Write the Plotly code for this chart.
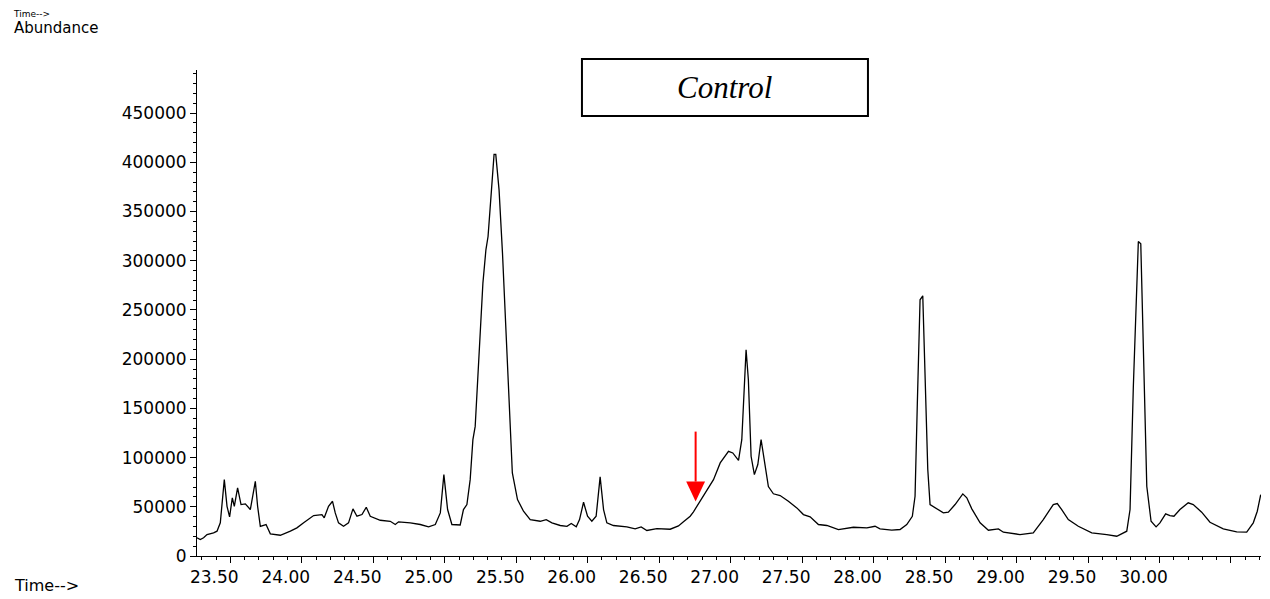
import plotly.graph_objects as go

# Retention time (min) and abundance
time_min = [23.267, 23.290, 23.313, 23.337, 23.383, 23.407, 23.430, 23.442, 23.458, 23.477,
            23.495, 23.514, 23.528, 23.551, 23.575, 23.605, 23.640, 23.675, 23.691, 23.710,
            23.750, 23.780, 23.850, 23.920, 23.966, 24.013, 24.083, 24.141, 24.157, 24.187,
            24.215, 24.234, 24.257, 24.292, 24.327, 24.358, 24.386, 24.421, 24.451, 24.479,
            24.549, 24.619, 24.654, 24.677, 24.759, 24.829, 24.887, 24.934, 24.969, 24.994,
            25.020, 25.050, 25.108, 25.131, 25.155, 25.178, 25.197, 25.213, 25.248, 25.267,
            25.288, 25.303, 25.327, 25.345, 25.357, 25.380, 25.404, 25.430, 25.453, 25.473,
            25.509, 25.551, 25.598, 25.668, 25.710, 25.750, 25.808, 25.855, 25.885, 25.920,
            25.943, 25.971, 25.999, 26.029, 26.059, 26.087, 26.111, 26.134, 26.180, 26.274,
            26.332, 26.374, 26.414, 26.484, 26.577, 26.635, 26.670, 26.717, 26.740, 26.810,
            26.880, 26.927, 26.985, 27.015, 27.055, 27.078, 27.097, 27.108, 27.124, 27.143,
            27.166, 27.190, 27.213, 27.236, 27.264, 27.299, 27.346, 27.404, 27.463, 27.509,
            27.556, 27.614, 27.673, 27.754, 27.813, 27.859, 27.953, 28.010, 28.045, 28.127,
            28.185, 28.232, 28.271, 28.290, 28.306, 28.325, 28.344, 28.360, 28.379, 28.395,
            28.442, 28.488, 28.523, 28.570, 28.624, 28.652, 28.687, 28.745, 28.803, 28.873,
            28.908, 29.013, 29.024, 29.117, 29.187, 29.257, 29.285, 29.316, 29.362, 29.432,
            29.526, 29.631, 29.701, 29.771, 29.794, 29.817, 29.852, 29.869, 29.887, 29.911,
            29.941, 29.976, 30.003, 30.043, 30.073, 30.101, 30.143, 30.201, 30.236, 30.295,
            30.353, 30.446, 30.540, 30.610, 30.656, 30.684, 30.708]

abundance = [18500, 16700, 18500, 21800, 23500, 25200, 33700, 54000, 77600, 50500,
             39800, 59100, 50500, 69200, 52300, 53000, 47200, 75900, 50500, 30200,
             32000, 22500, 21100, 25200, 28600, 33700, 41100, 42100, 38800, 50500,
             55600, 43800, 33700, 30200, 33700, 47900, 40400, 42100, 49500, 40400,
             36300, 35300, 32000, 34700, 33700, 32000, 29600, 32000, 43800, 82700,
             47200, 32000, 31500, 47200, 52300, 77600, 118200, 131700, 233200, 277300,
             311100, 324600, 372000, 408000, 408000, 372000, 307700, 219700, 135200, 84400,
             57300, 45500, 37000, 35300, 37000, 33700, 31000, 30200, 33000, 29600,
             37000, 54600, 40400, 35300, 40400, 80400, 47200, 33700, 31000, 29600,
             27600, 29600, 25900, 27900, 27200, 30500, 34700, 40400, 44900, 60700,
             77600, 94600, 106400, 104700, 97200, 118200, 179100, 209600, 179100, 101300,
             82700, 92900, 118200, 97900, 70600, 63200, 61400, 55600, 48900, 42100,
             39800, 32000, 31000, 26900, 28600, 29200, 28600, 30200, 27600, 26200,
             26900, 32000, 40400, 60700, 155500, 260300, 264400, 189300, 87800, 52300,
             47900, 43800, 44500, 52300, 63100, 59100, 47900, 33700, 26200, 27600,
             24200, 22500, 21800, 23500, 37000, 52300, 53300, 47200, 37000, 30200,
             23500, 21800, 20100, 25200, 47200, 172300, 319500, 317200, 206200, 70800,
             35300, 29600, 33700, 42800, 41100, 40400, 47200, 54000, 52300, 44500,
             34300, 27600, 24600, 24200, 33700, 45500, 62400]

x_tick_vals = [23.5, 24.0, 24.5, 25.0, 25.5, 26.0, 26.5, 27.0, 27.5, 28.0, 28.5, 29.0, 29.5, 30.0, 30.5]
x_tick_text = ["23.50", "24.00", "24.50", "25.00", "25.50", "26.00", "26.50", "27.00",
               "27.50", "28.00", "28.50", "29.00", "29.50", "30.00", ""]
y_tick_vals = [0, 50000, 100000, 150000, 200000, 250000, 300000, 350000, 400000, 450000]
y_tick_text = ["0", "50000", "100000", "150000", "200000", "250000", "300000", "350000", "400000", "450000"]

x_range = [23.267, 30.71]
y_range = [0, 493800]

# red arrow annotation (time, top of shaft, base of head, tip)
arrow_t = 26.755
arrow_half_w = 0.066
arrow_top = 126400
arrow_head_base = 75600
arrow_tip = 55300

fig = go.Figure()
fig.add_trace(go.Scatter(x=time_min, y=abundance, mode="lines",
                         line=dict(color="black", width=1.3), hoverinfo="skip"))

tick_font = dict(family="DejaVu Sans", size=17, color="black")

fig.update_layout(
    width=1262, height=591,
    margin=dict(l=189, r=9, t=62, b=42.5),
    paper_bgcolor="white", plot_bgcolor="white",
    showlegend=False,
    xaxis=dict(range=x_range, tickmode="array", tickvals=x_tick_vals, ticktext=x_tick_text,
               ticks="outside", ticklen=6, tickwidth=1, tickcolor="black",
               showline=True, linecolor="black", linewidth=1,
               showgrid=False, zeroline=False, tickfont=tick_font,
               ticklabelshift=-16,
               minor=dict(tick0=23.5, dtick=0.1, ticks="outside", ticklen=3,
                          tickcolor="black", showgrid=False)),
    yaxis=dict(range=y_range, tickmode="array", tickvals=y_tick_vals, ticktext=y_tick_text,
               ticks="outside", ticklen=6, tickwidth=1, tickcolor="black",
               showline=True, linecolor="black", linewidth=1,
               showgrid=False, zeroline=False, tickfont=tick_font,
               minor=dict(tick0=0, dtick=10000, ticks="outside", ticklen=3,
                          tickcolor="black", showgrid=False)),
)

label_font = dict(family="DejaVu Sans", size=15, color="black")
fig.add_annotation(text="Time-->", xref="paper", yref="paper", x=-0.174, y=1.1274,
                   xanchor="left", yanchor="top", showarrow=False, borderpad=0,
                   font=dict(family="DejaVu Sans", size=9, color="black"))
fig.add_annotation(text="Abundance", xref="paper", yref="paper", x=-0.174, y=1.0868,
                   xanchor="left", yanchor="middle", showarrow=False, font=label_font)
fig.add_annotation(text="Time-->", xref="paper", yref="paper", x=-0.174, y=-0.084,
                   xanchor="left", yanchor="bottom", showarrow=False,
                   font=dict(family="DejaVu Sans", size=16, color="black"))

# Control label box
fig.add_shape(type="rect", xref="paper", yref="paper", x0=0.3618, x1=0.6306, y0=0.9054, y1=1.0226,
              line=dict(color="black", width=2), fillcolor="white", layer="above")
fig.add_annotation(text="<i>Control</i>", xref="paper", yref="paper", x=0.4962, y=0.964,
                   xanchor="center", yanchor="middle", showarrow=False,
                   font=dict(family="Liberation Serif", size=31, color="black"))

# red arrow
fig.add_shape(type="line", xref="x", yref="y", x0=arrow_t, x1=arrow_t,
              y0=arrow_top, y1=arrow_head_base, line=dict(color="red", width=2))
fig.add_shape(type="path", xref="x", yref="y",
              path=f"M {arrow_t - arrow_half_w} {arrow_head_base} L {arrow_t + arrow_half_w} {arrow_head_base} L {arrow_t} {arrow_tip} Z",
              fillcolor="red", line=dict(color="red", width=0))

fig.write_html("out.html")
